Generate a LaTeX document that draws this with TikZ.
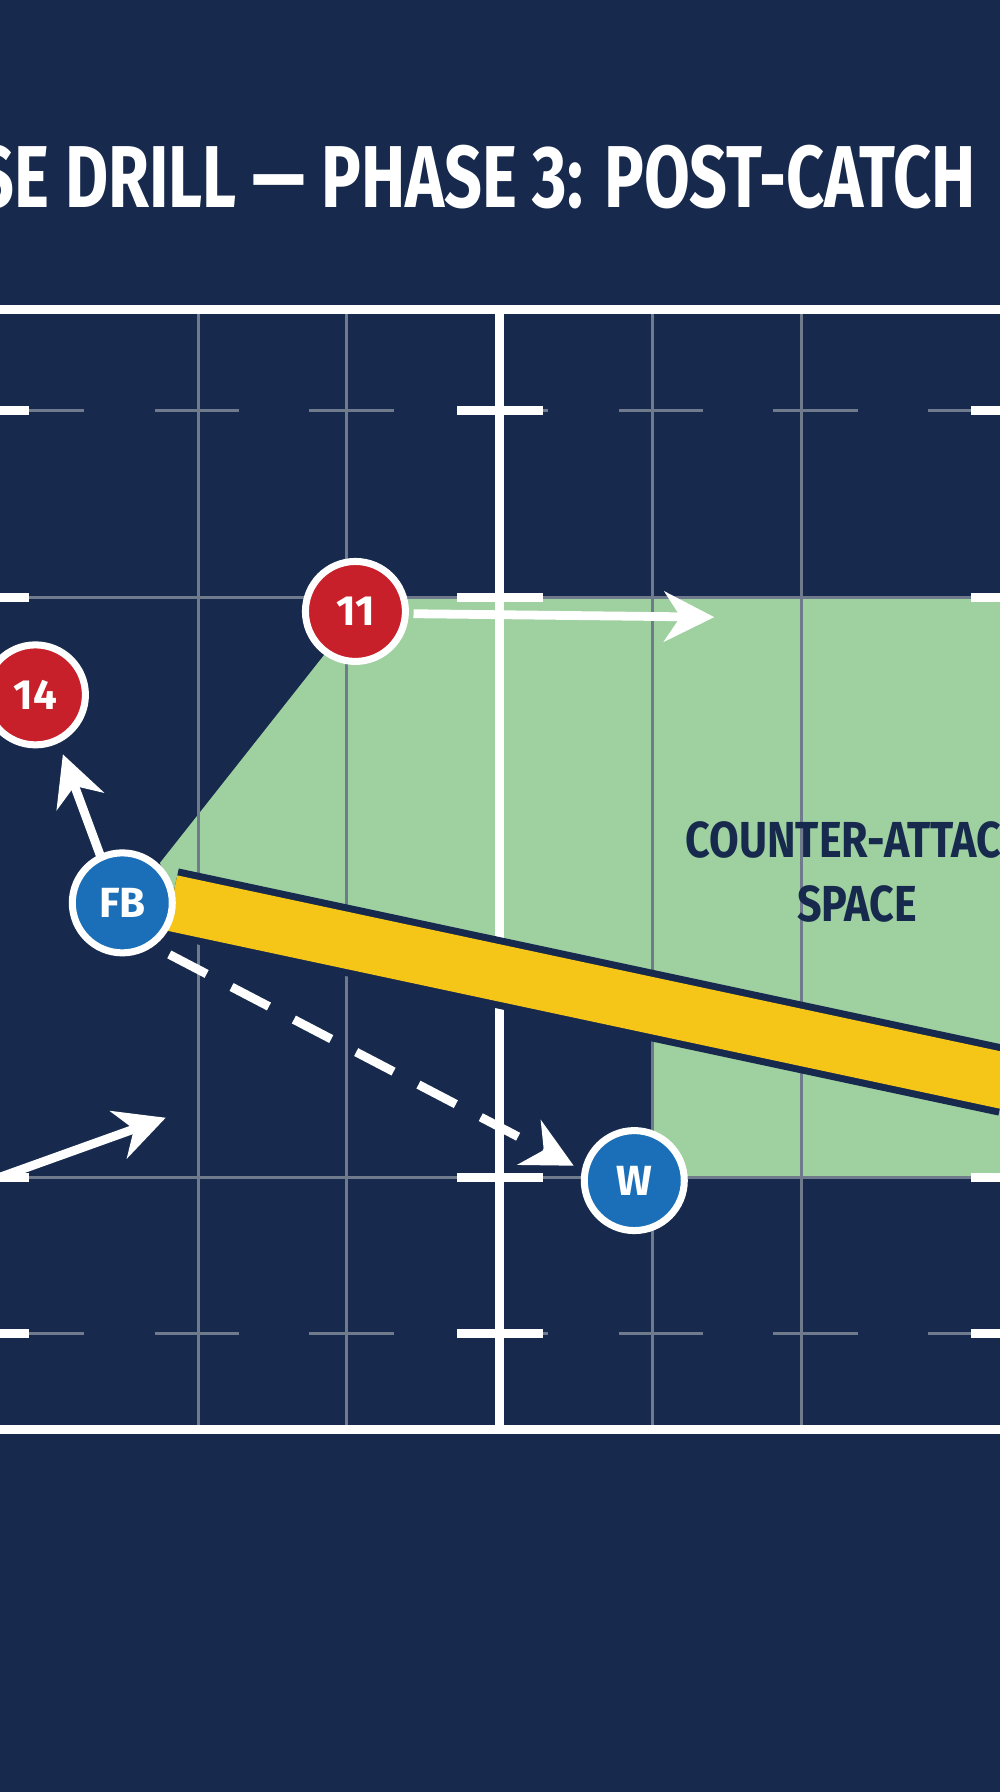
\documentclass[tikz,border=0pt]{standalone}
\usepackage{fontspec}
\setmainfont{Fira Sans}
\usetikzlibrary{arrows.meta,positioning}
\definecolor{navy}{HTML}{172A4D}
\definecolor{pitchline}{HTML}{6F7A8C}
\definecolor{space}{HTML}{9FD0A0}
\definecolor{kick}{HTML}{F5C518}
\definecolor{redp}{HTML}{C8202A}
\definecolor{bluep}{HTML}{1A6FB8}
\tikzset{
  player/.style = {circle, draw=white, line width=2pt, minimum size=1.0cm,
                   inner sep=0pt, text=white, font=\bfseries\large},
  red player/.style = {player, fill=redp},
  blue player/.style = {player, fill=bluep},
  run/.style = {white, line width=2.5pt, -{Stealth[length=5mm,width=5mm]}},
  thin line/.style = {pitchline, line width=0.8pt},
  white line/.style = {white, line width=2.5pt},
}
\begin{document}
\begin{tikzpicture}[x=0.01143cm, y=-0.01143cm]
\useasboundingbox (0,0) rectangle (875,1568);
\clip (0,0) rectangle (875,1568);
\fill[navy] (0,0) rectangle (875,1568);
% title
\node[anchor=east, text=white, font=\bfseries\fontsize{25}{28}\selectfont,
      xscale=0.755, transform shape] (title) at (862,155) {SE DRILL — PHASE 3: POST-CATCH};
% space to attack
\fill[space] (140,755) -- (290,565) -- (320,523) -- (875,523) -- (875,1030)
   -- (571,1030) -- (571,880) -- (437,850) -- (150,785) -- cycle;
% pitch
\foreach \x in {174,303,571,701}
  \draw[thin line] (\x,271) -- (\x,1251);
\foreach \y in {523,1030}
  \draw[thin line] (0,\y) -- (875,\y);
\foreach \y in {359,1167}
  \draw[thin line, dash pattern=on 24pt off 20pt] (0,\y) -- (875,\y);
\draw[white line] (0,271) -- (875,271);
\draw[white line] (0,1251) -- (875,1251);
\draw[white line] (437,271) -- (437,1251);
\foreach \y in {359,523,1030,1167} {
  \draw[white line] (400,\y) -- (475,\y);
  \draw[white line] (0,\y) -- (25,\y);
  \draw[white line] (850,\y) -- (875,\y);
}
% kick
\draw[navy, line width=20pt] (150,790) -- (880,946);
\draw[kick, line width=16pt] (150,790) -- (880,946);
\node[text=navy, font=\bfseries\Large, align=center, xscale=0.85, transform shape]
   (spacetext) at (750,763) {COUNTER-ATTACK\\SPACE};
% players
\node[red player] (p11) at (311,535) {11};
\node[red player] (p14) at (31,608) {14};
\node[blue player] (fb) at (107,790) {FB};
\node[blue player] (w) at (555,1033) {W};
\coordinate (runstart) at (0,1030);
\coordinate (runend) at (145,978);
\coordinate (p11end) at (625,540);
\coordinate (p14end) at (55,660);
\coordinate (wend) at (502,1020);
% runs
\draw[run] (p11.east) ++(4,2) -- (p11end);
\draw[run] (fb.north west) ++(14,-8) -- (p14end);
\draw[run] (runstart) -- (runend);
\draw[run, dash pattern=on 12pt off 8pt] (fb.south east) ++(8,12) -- (wend);
\end{tikzpicture}
\end{document}
